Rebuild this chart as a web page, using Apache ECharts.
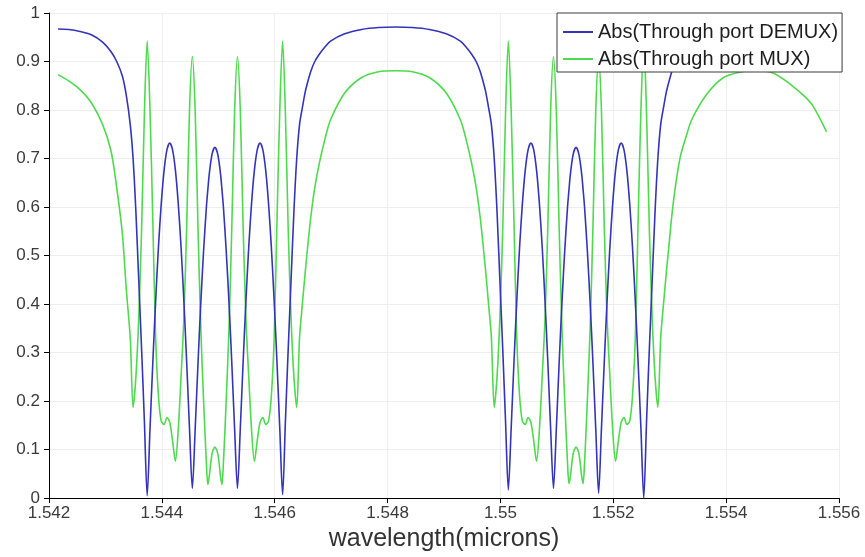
<!DOCTYPE html>
<html>
<head>
<meta charset="utf-8">
<title>Through port transmission</title>
<script src="https://cdn.jsdelivr.net/npm/echarts@6/dist/echarts.min.js"></script>
<style>
  html, body { margin: 0; padding: 0; background: #ffffff; }
  #chart { width: 865px; height: 557px; }
</style>
</head>
<body>
<div id="chart"></div>
<script>
// Wavelength samples (microns): dense around the two filter groups, sparser on the broad lobes
const wavelength = [
  1.54216, 1.54235, 1.54255, 1.54275, 1.54295, 1.54310, 1.54320, 1.54330, 1.54337, 1.54344,
  1.54349, 1.54354, 1.54359, 1.54364, 1.54369,
  1.54374, 1.54379, 1.54384, 1.54389, 1.54394, 1.54399, 1.54404, 1.54409, 1.54414, 1.54419, 1.54424, 1.54429, 1.54434, 1.54439, 1.54444, 1.54449,
  1.54454, 1.54459, 1.54464, 1.54469, 1.54474, 1.54479, 1.544815,
  1.54484, 1.54489, 1.54494, 1.54499, 1.54504, 1.545065,
  1.54509, 1.54514, 1.54519, 1.54524, 1.54529,
  1.54534, 1.54539, 1.54544, 1.54549, 1.54554, 1.54559, 1.54564, 1.54569, 1.54574, 1.54579, 1.54584, 1.54589, 1.54594, 1.54599, 1.54604, 1.54609,
  1.54614, 1.54619, 1.54624, 1.54629, 1.54634, 1.54639,
  1.54644, 1.54649, 1.54654, 1.54659, 1.54664, 1.54671, 1.54679, 1.54689, 1.54699, 1.54724, 1.54754, 1.54784, 1.54814,
  1.54844, 1.54874, 1.54904, 1.54929, 1.54939, 1.54949, 1.54957, 1.54964, 1.54969, 1.54974, 1.54979, 1.54984,
  1.54989, 1.54994, 1.54999, 1.55004, 1.55009,
  1.55014, 1.55019, 1.55024, 1.55029, 1.55034, 1.55039, 1.55044, 1.55049, 1.55054, 1.55059, 1.55064, 1.55069, 1.55074, 1.55079, 1.55084, 1.55089,
  1.55094, 1.55099, 1.55104, 1.55109, 1.55114, 1.55119, 1.551215,
  1.55124, 1.55129, 1.55134, 1.55139, 1.55144, 1.551465,
  1.55149, 1.55154, 1.55159, 1.55164, 1.55169,
  1.55174, 1.55179, 1.55184, 1.55189, 1.55194, 1.55199, 1.55204, 1.55209, 1.55214, 1.55219, 1.55224, 1.55229, 1.55234, 1.55239, 1.55244, 1.55249,
  1.55254, 1.55259, 1.55264, 1.55269, 1.55274, 1.55279,
  1.55284, 1.55289, 1.55294, 1.55299, 1.55304, 1.55311, 1.55319, 1.55329, 1.55339, 1.55364, 1.55394, 1.55424, 1.55454,
  1.55484, 1.55514, 1.55539, 1.55554, 1.55578
];

// |Through port| of the demultiplexer
const demux = [
  0.967, 0.966, 0.962, 0.955, 0.940, 0.920, 0.900, 0.870, 0.830, 0.770,
  0.700, 0.590, 0.450, 0.310, 0.160,
  0.005, 0.143, 0.280, 0.407, 0.518, 0.608, 0.676, 0.718, 0.732, 0.718, 0.676, 0.608, 0.518, 0.407, 0.280, 0.143,
  0.020, 0.141, 0.277, 0.402, 0.511, 0.601, 0.636,
  0.668, 0.709, 0.723, 0.709, 0.668, 0.636,
  0.601, 0.511, 0.402, 0.277, 0.141,
  0.020, 0.143, 0.280, 0.407, 0.518, 0.608, 0.676, 0.718, 0.732, 0.718, 0.676, 0.608, 0.518, 0.407, 0.280, 0.143,
  0.007, 0.160, 0.310, 0.450, 0.590, 0.700,
  0.770, 0.805, 0.837, 0.860, 0.880, 0.900, 0.915, 0.930, 0.942, 0.957, 0.966, 0.970, 0.971,
  0.970, 0.966, 0.957, 0.942, 0.930, 0.915, 0.900, 0.880, 0.860, 0.837, 0.805, 0.770,
  0.700, 0.590, 0.450, 0.310, 0.160,
  0.017, 0.143, 0.280, 0.407, 0.518, 0.608, 0.676, 0.718, 0.732, 0.718, 0.676, 0.608, 0.518, 0.407, 0.280, 0.143,
  0.020, 0.141, 0.277, 0.402, 0.511, 0.601, 0.636,
  0.668, 0.709, 0.723, 0.709, 0.668, 0.636,
  0.601, 0.511, 0.402, 0.277, 0.141,
  0.010, 0.143, 0.280, 0.407, 0.518, 0.608, 0.676, 0.718, 0.732, 0.718, 0.676, 0.608, 0.518, 0.407, 0.280, 0.143,
  0.000, 0.160, 0.310, 0.450, 0.590, 0.700,
  0.770, 0.805, 0.837, 0.860, 0.880, 0.900, 0.915, 0.930, 0.942, 0.957, 0.966, 0.970, 0.971,
  0.970, 0.966, 0.960, 0.955, 0.945
];

// |Through port| of the multiplexer
const mux = [
  0.873, 0.860, 0.842, 0.815, 0.770, 0.715, 0.640, 0.545, 0.430, 0.330,
  0.187, 0.250, 0.370, 0.550, 0.790,
  0.942, 0.800, 0.570, 0.330, 0.210, 0.158, 0.152, 0.166, 0.156, 0.118, 0.076, 0.140, 0.250, 0.370, 0.560, 0.800,
  0.910, 0.800, 0.560, 0.350, 0.200, 0.070, 0.028,
  0.045, 0.092, 0.105, 0.092, 0.045, 0.028,
  0.070, 0.200, 0.350, 0.560, 0.800,
  0.910, 0.800, 0.560, 0.370, 0.250, 0.140, 0.076, 0.118, 0.156, 0.166, 0.152, 0.158, 0.210, 0.330, 0.570, 0.800,
  0.942, 0.790, 0.550, 0.370, 0.250, 0.187,
  0.330, 0.400, 0.465, 0.525, 0.580, 0.640, 0.690, 0.740, 0.780, 0.835, 0.867, 0.879, 0.881,
  0.879, 0.867, 0.835, 0.780, 0.740, 0.690, 0.640, 0.580, 0.525, 0.465, 0.400, 0.330,
  0.187, 0.250, 0.370, 0.550, 0.790,
  0.942, 0.800, 0.570, 0.330, 0.210, 0.158, 0.152, 0.166, 0.156, 0.118, 0.076, 0.140, 0.250, 0.370, 0.560, 0.800,
  0.910, 0.800, 0.560, 0.350, 0.200, 0.070, 0.030,
  0.045, 0.092, 0.105, 0.092, 0.045, 0.030,
  0.070, 0.200, 0.350, 0.560, 0.800,
  0.910, 0.800, 0.560, 0.370, 0.250, 0.140, 0.076, 0.118, 0.156, 0.166, 0.152, 0.158, 0.210, 0.330, 0.570, 0.800,
  0.942, 0.790, 0.550, 0.370, 0.250, 0.187,
  0.330, 0.400, 0.465, 0.525, 0.585, 0.650, 0.705, 0.745, 0.780, 0.830, 0.866, 0.878, 0.881,
  0.876, 0.853, 0.828, 0.808, 0.755
];

const seriesNames = ['Abs(Through port DEMUX)', 'Abs(Through port MUX)'];
const xAxisTitle = 'wavelength(microns)';

const FONT = '"Liberation Sans", Arial, sans-serif';

function pairs(ys) {
  return wavelength.map((x, i) => [x, ys[i]]);
}

const chart = echarts.init(document.getElementById('chart'), null, { renderer: 'canvas' });

chart.setOption({
  animation: false,
  backgroundColor: '#ffffff',
  grid: { left: 49, right: 26, top: 13, bottom: 52, containLabel: false },
  legend: {
    orient: 'vertical',
    left: 557,
    top: 13,
    padding: [8, 4, 2, 6],
    itemGap: 5,
    itemWidth: 30,
    itemHeight: 2,
    icon: 'rect',
    backgroundColor: '#ffffff',
    borderColor: '#3a3a3a',
    borderWidth: 1,
    textStyle: { fontFamily: FONT, fontSize: 20, color: '#1e1e1e', lineHeight: 22 },
    data: seriesNames
  },
  xAxis: {
    type: 'value',
    min: 1.542,
    max: 1.556,
    interval: 0.002,
    name: xAxisTitle,
    nameLocation: 'middle',
    nameGap: 17,
    nameTextStyle: { fontFamily: FONT, fontSize: 25, color: '#333333' },
    axisLine: { show: true, onZero: false, lineStyle: { color: '#000000', width: 1 } },
    axisTick: { show: true, inside: false, length: 5, lineStyle: { color: '#000000' } },
    axisLabel: {
      fontFamily: FONT, fontSize: 17, color: '#3a3a3a', margin: 7,
      formatter: v => String(parseFloat(v.toFixed(3)))
    },
    splitLine: { show: true, lineStyle: { color: '#eeeeee', width: 1 } }
  },
  yAxis: {
    type: 'value',
    min: 0,
    max: 1,
    interval: 0.1,
    axisLine: { show: true, lineStyle: { color: '#000000', width: 1 } },
    axisTick: { show: true, inside: false, length: 5, lineStyle: { color: '#000000' } },
    axisLabel: {
      fontFamily: FONT, fontSize: 17, color: '#3a3a3a', margin: 9,
      formatter: v => String(parseFloat(v.toFixed(1)))
    },
    splitLine: { show: true, lineStyle: { color: '#eeeeee', width: 1 } }
  },
  series: [
    {
      name: seriesNames[0],
      type: 'line',
      data: pairs(demux),
      symbol: 'none',
      smooth: 0.3,
      color: '#3434bb',
      lineStyle: { color: '#3434bb', width: 1.6 },
      z: 3
    },
    {
      name: seriesNames[1],
      type: 'line',
      data: pairs(mux),
      symbol: 'none',
      smooth: 0.3,
      color: '#4ddb4d',
      lineStyle: { color: '#4ddb4d', width: 1.6 },
      z: 2
    }
  ]
});
</script>
</body>
</html>
